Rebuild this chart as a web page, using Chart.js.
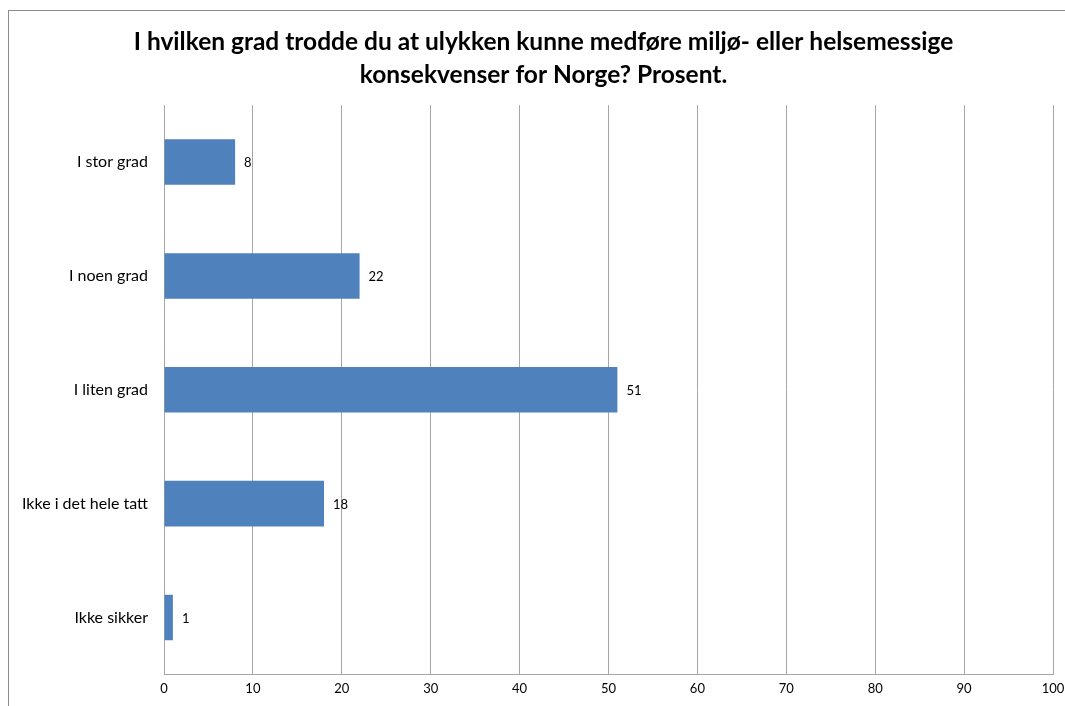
<!DOCTYPE html>
<html>
<head>
<meta charset="utf-8">
<script src="https://cdn.jsdelivr.net/npm/chart.js@4"></script>
<style>
  body { margin: 0; background: #fff; }
  #frame { position: absolute; left: 8px; top: 10px; width: 1200px; height: 800px; border: 1px solid #8c8c8c; }
  #wrap { position: absolute; left: 0; top: 0; width: 1065px; height: 706px; }
</style>
</head>
<body>
<div id="frame"></div>
<div id="wrap"><canvas id="chart" width="1065" height="706"></canvas></div>
<script>
    var categories = ["I stor grad", "I noen grad", "I liten grad", "Ikke i det hele tatt", "Ikke sikker"];
    var percentValues = [8, 22, 51, 18, 1];
    var titleLines = ["I hvilken grad trodde du at ulykken kunne medføre miljø- eller helsemessige", "konsekvenser for Norge? Prosent."];

    // draws the number just right of each bar
    var valueLabels = {
        id: 'valueLabels',
        afterDatasetsDraw: function(chart) {
            var ctx = chart.ctx;
            var meta = chart.getDatasetMeta(0);
            ctx.save();
            ctx.font = "13px Lato";
            ctx.fillStyle = "#000";
            ctx.textBaseline = "middle";
            ctx.textAlign = "left";
            for (var i = 0; i < meta.data.length; i++) {
                var bar = meta.data[i];
                ctx.fillText(chart.data.datasets[0].data[i], bar.x + 9, bar.y + 1);
            }
            ctx.restore();
        }
    };

    var ctx = document.getElementById("chart").getContext('2d');
    var chart = new Chart(ctx, {
        type: 'bar',
        data: {
            labels: categories,
            datasets: [{
                data: percentValues,
                backgroundColor: "#4F81BD",
                borderWidth: 0,
                categoryPercentage: 1,
                barPercentage: 0.4
            }]
        },
        plugins: [valueLabels],
        options: {
            indexAxis: 'y',
            responsive: false,
            animation: false,
            devicePixelRatio: 1,
            layout: { padding: { left: 22, right: 0, top: 26, bottom: 2 } },
            plugins: {
                legend: { display: false },
                tooltip: { enabled: false },
                title: {
                    display: true,
                    text: titleLines,
                    color: "#000",
                    font: { family: "Lato", size: 24.5, weight: "bold", lineHeight: 1.33 },
                    padding: { top: 0, bottom: 14 }
                }
            },
            scales: {
                x: {
                    min: 0,
                    max: 100,
                    ticks: { stepSize: 10, color: "#000", font: { family: "Lato", size: 13 }, padding: 7, maxRotation: 0 },
                    grid: { color: "#a6a6a6", drawTicks: false },
                    border: { color: "#a6a6a6" },
                    afterFit: function(scale) { scale.paddingRight = 12; }
                },
                y: {
                    ticks: { color: "#000", font: { family: "Lato", size: 16 }, padding: 16 },
                    grid: { display: false, drawTicks: false },
                    border: { color: "#a6a6a6" },
                    afterFit: function(scale) { scale.width = 142; }
                }
            }
        }
    });
</script>
</body>
</html>
